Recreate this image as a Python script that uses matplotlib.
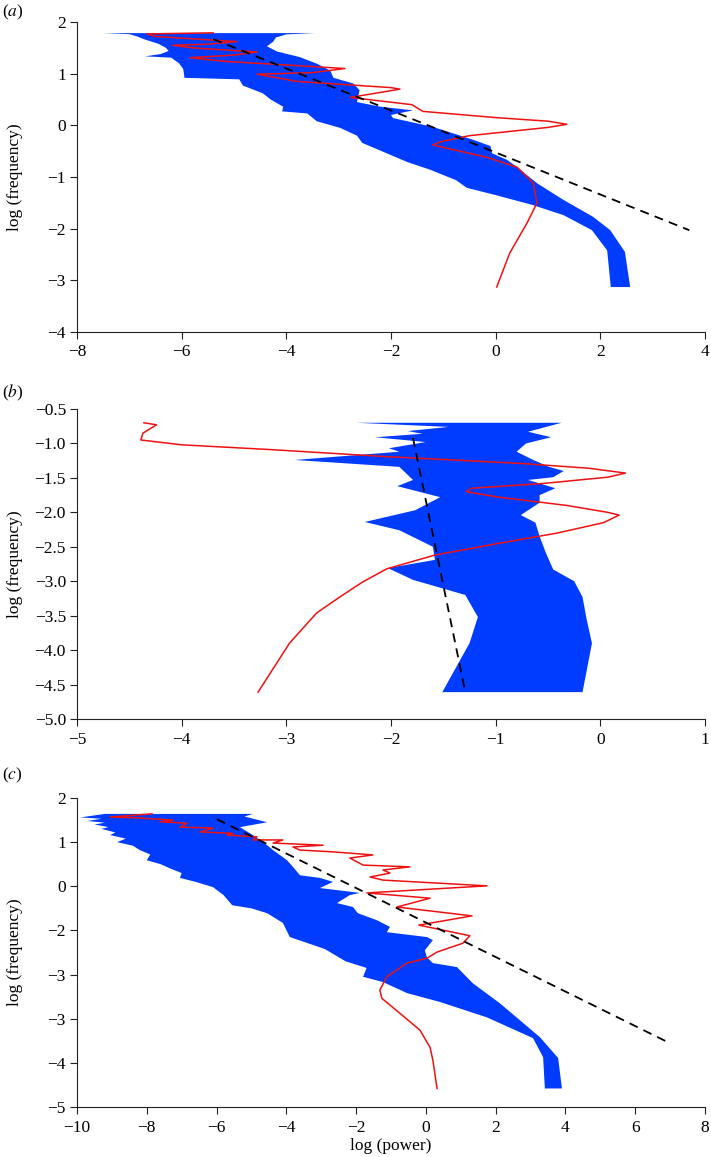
import matplotlib
matplotlib.use("Agg")
import matplotlib.pyplot as plt
import numpy as np

plt.rcParams['font.family'] = ['Liberation Serif', 'DejaVu Serif']
plt.rcParams['mathtext.fontset'] = 'stix'
plt.rcParams['font.size'] = 12.5

BLUE = '#003cff'
RED = '#ee1111'

# ---------------- Panel (a) ----------------
a_left_x = [-7.5, -7.0, -6.85, -6.7, -6.45, -6.3, -6.25, -6.4, -6.7, -6.2, -6.05, -5.97, -5.95, -5.95,
            -4.9, -4.83, -4.45, -4.3, -4.06, -4.08, -3.6, -3.42, -2.97, -2.65, -2.55, -1.69, -1.25,
            -0.76, -0.55, 0.0, 0.7, 1.3, 1.84, 2.13, 2.2]
a_left_y = [1.785, 1.765, 1.72, 1.66, 1.58, 1.50, 1.44, 1.38, 1.335, 1.31, 1.2, 1.09, 0.95, 0.92,
            0.89, 0.77, 0.62, 0.5, 0.36, 0.27, 0.23, 0.08, -0.05, -0.2, -0.34, -0.71, -0.86,
            -1.06, -1.21, -1.35, -1.54, -1.74, -2.03, -2.42, -3.13]
a_right_x = [-3.45, -4.0, -4.2, -4.25, -4.37, -4.18, -3.74, -3.41, -3.16, -3.1, -2.72, -2.6, -2.65,
             -2.2, -1.58, -2.0, -1.96, -1.2, -0.43, -0.1, -0.07, 0.22, 0.41, 0.79, 1.29, 1.86,
             2.19, 2.47, 2.57]
a_right_y = [1.785, 1.76, 1.70, 1.62, 1.53, 1.43, 1.32, 1.19, 1.06, 0.92, 0.81, 0.68, 0.45,
             0.36, 0.29, 0.2, 0.14, -0.03, -0.28, -0.40, -0.54, -0.67, -0.81, -1.12, -1.44, -1.77,
             -2.03, -2.45, -3.13]
a_red_x = [-5.4, -6.66, -6.5, -4.94, -5.5, -6.17, -5.8, -4.56, -5.0, -5.84, -5.2, -2.88, -3.5,
           -4.56, -3.8, -2.0, -1.83, -2.78, -1.6, -1.39, 0.0, 1.0, 1.36, 1.0, -0.5, -1.06, -1.2,
           -0.16, 0.41, 0.72, 0.79, 0.6, 0.27, 0.02]
a_red_y = [1.79, 1.77, 1.72, 1.62, 1.57, 1.55, 1.50, 1.42, 1.36, 1.31, 1.24, 1.10, 1.02,
           0.99, 0.85, 0.73, 0.70, 0.54, 0.40, 0.27, 0.15, 0.08, 0.02, -0.04, -0.2, -0.32, -0.38,
           -0.62, -0.81, -1.12, -1.50, -1.89, -2.47, -3.13]
a_fit_x = [-5.4, 3.7]
a_fit_y = [1.67, -2.03]
a_xticks = [-8, -6, -4, -2, 0, 2, 4]
a_yticks = [2, 1, 0, -1, -2, -3, -4]

# ---------------- Panel (b) ----------------
b_left_x = [-2.33, -1.45, -1.84, -1.70, -2.15, -1.67, -2.02, -1.92, -2.92, -1.92, -1.79, -1.94,
            -1.53, -1.77, -2.25, -1.92, -1.6, -1.58, -2.03, -1.79, -1.29, -1.17, -1.25, -1.51]
b_left_y = [-0.70, -0.76, -0.82, -0.86, -0.91, -0.98, -1.07, -1.12, -1.24, -1.34, -1.53, -1.62,
            -1.78, -1.97, -2.14, -2.26, -2.5, -2.69, -2.81, -2.98, -3.2, -3.52, -3.9, -4.61]
b_right_x = [-0.37, -0.69, -0.47, -0.71, -0.80, -0.64, -0.49, -0.35, -0.45, -0.69, -0.43, -0.58,
             -0.58, -0.76, -0.62, -0.58, -0.52, -0.45, -0.25, -0.17, -0.13, -0.08, -0.17]
b_right_y = [-0.70, -0.83, -0.91, -1.0, -1.12, -1.24, -1.34, -1.40, -1.49, -1.53, -1.65, -1.75,
             -1.86, -2.04, -2.15, -2.35, -2.59, -2.83, -3.0, -3.23, -3.56, -3.90, -4.61]
b_red_x = [-4.36, -4.24, -4.37, -4.39, -4.0, -3.14, -2.06, -1.40, -0.76, -0.11, 0.24, 0.07,
           -0.54, -1.23, -1.28, -0.97, -0.32, 0.07, 0.18, 0.03, -0.41, -0.97, -1.58, -2.04,
           -2.27, -2.49, -2.71, -2.97, -3.27]
b_red_y = [-0.70, -0.73, -0.85, -0.95, -1.02, -1.09, -1.19, -1.24, -1.29, -1.36, -1.43, -1.49,
           -1.58, -1.65, -1.70, -1.78, -1.9, -2.0, -2.04, -2.15, -2.3, -2.45, -2.62, -2.82,
           -3.01, -3.23, -3.46, -3.9, -4.61]
b_fit_x = [-1.79, -1.29]
b_fit_y = [-0.92, -4.61]
b_xticks = [-5, -4, -3, -2, -1, 0, 1]
b_yticks = [-0.5, -1.0, -1.5, -2.0, -2.5, -3.0, -3.5, -4.0, -4.5, -5.0]

# ---------------- Panel (c) ----------------
c_left_x = [-9.2, -9.9, -9.3, -9.7, -9.2, -9.5, -9.1, -9.3, -8.9, -9.05, -8.6, -8.85, -8.4, -8.2,
            -7.9, -8.0, -7.6, -7.35, -7.0, -7.05, -6.6, -6.1, -5.8, -5.55, -5.0, -4.55, -4.1,
            -3.9, -2.9, -2.3, -1.7, -1.8, -1.23, -0.54, 0.4, 1.75, 3.07, 3.36, 3.41]
c_left_y = [1.64, 1.56, 1.53, 1.48, 1.44, 1.40, 1.34, 1.30, 1.22, 1.16, 1.08, 1.0, 0.92, 0.82,
            0.72, 0.59, 0.50, 0.41, 0.30, 0.19, 0.10, -0.02, -0.2, -0.43, -0.50, -0.61, -0.83,
            -1.15, -1.42, -1.70, -1.85, -2.05, -2.17, -2.42, -2.62, -2.97, -3.44, -3.87, -4.58]
c_right_x = [-4.96, -5.2, -4.55, -5.33, -4.96, -4.55, -4.38, -3.98, -3.81, -3.61, -3.04, -2.66,
             -3.04, -1.89, -2.18, -2.55, -2.09, -1.95, -1.4, -1.03, -1.12, 0.03, 0.2, -0.03,
             0.03, 0.2, 0.89, 1.35, 2.12, 3.27, 3.79, 3.9]
c_right_y = [1.64, 1.58, 1.45, 1.34, 1.16, 0.93, 0.82, 0.59, 0.44, 0.25, 0.19, 0.10,
             -0.04, -0.15, -0.2, -0.38, -0.47, -0.61, -0.77, -0.92, -1.04, -1.15, -1.22, -1.45,
             -1.61, -1.74, -1.83, -2.2, -2.65, -3.42, -3.89, -4.58]
c_red_x = [-7.85, -9.05, -8.28, -7.25, -7.62, -6.85, -7.05, -6.1, -6.47, -5.53, -5.7, -4.84,
           -4.96, -4.1, -4.38, -2.95, -3.81, -3.61, -2.66, -1.52, -2.18, -1.8, -0.46, -1.23,
           -1.03, -1.6, -1.23, 1.75, -1.69, 0.12, -0.83, 1.32, -0.2, 1.26, 1.06, 0.32, 0.03,
           -0.54, -1.12, -1.32, -1.26, -0.74, -0.17, 0.12, 0.2, 0.32]
c_red_y = [1.64, 1.57, 1.55, 1.50, 1.46, 1.43, 1.34, 1.32, 1.23, 1.20, 1.16, 1.12,
           1.05, 1.05, 0.98, 0.93, 0.89, 0.82, 0.78, 0.71, 0.64, 0.48, 0.44, 0.37,
           0.30, 0.21, 0.14, 0.01, -0.15, -0.27, -0.47, -0.67, -0.88, -1.12, -1.29, -1.49, -1.63,
           -1.74, -2.05, -2.35, -2.54, -2.88, -3.26, -3.65, -3.94, -4.58]
c_fit_x = [-5.99, 6.88]
c_fit_y = [1.52, -3.51]
c_xticks = [-10, -8, -6, -4, -2, 0, 2, 4, 6, 8]
c_yticks = [2, 1, 0, -1, -2, -3, -4, -5]
c_yticklabels = ['2', '1', '0', '\u22122', '\u22123', '\u22123', '\u22124', '\u22125']

W, H = 711, 1157
fig = plt.figure(figsize=(W / 100, H / 100), dpi=100)


def make_axes(top_px, bottom_px):
    left = 77 / W
    width = 628 / W
    bottom = 1 - bottom_px / H
    height = (bottom_px - top_px) / H
    ax = fig.add_axes([left, bottom, width, height])
    for s in ['top', 'right']:
        ax.spines[s].set_visible(False)
    for s in ['left', 'bottom']:
        ax.spines[s].set_linewidth(0.8)
        ax.spines[s].set_color('#222222')
    ax.tick_params(direction='out', length=5, width=0.8, colors='#222222',
                   labelcolor='black', labelsize=12.5)
    ax.tick_params(axis='y', pad=3)
    ax.tick_params(axis='x', pad=4)
    return ax


def draw(ax, lx, ly, rx, ry, redx, redy, fx, fy):
    px = list(lx) + list(rx)[::-1]
    py = list(ly) + list(ry)[::-1]
    ax.fill(px, py, color=BLUE, lw=0, zorder=1)
    ax.plot(redx, redy, color=RED, lw=1.1, zorder=3, solid_joinstyle='round')
    ax.plot(fx, fy, color='black', lw=1.3, dashes=(5, 3.5), zorder=4)


# (a)
ax1 = make_axes(22, 332)
draw(ax1, a_left_x, a_left_y, a_right_x, a_right_y, a_red_x, a_red_y, a_fit_x, a_fit_y)
ax1.set_xlim(-8, 4)
ax1.set_ylim(-4, 2)
ax1.set_xticks(a_xticks)
ax1.set_yticks(a_yticks)
ax1.set_ylabel('log (frequency)')
ax1.yaxis.set_label_coords(-0.086, 0.5)

# (b)
ax2 = make_axes(409, 719)
draw(ax2, b_left_x, b_left_y, b_right_x, b_right_y, b_red_x, b_red_y, b_fit_x, b_fit_y)
ax2.set_xlim(-5, 1)
ax2.set_ylim(-5, -0.5)
ax2.set_xticks(b_xticks)
ax2.set_yticks(b_yticks)
ax2.set_yticklabels([f'{v:.1f}'.replace('-', '\u2212') for v in b_yticks])
ax2.set_ylabel('log (frequency)')
ax2.yaxis.set_label_coords(-0.086, 0.5)

# (c)
ax3 = make_axes(798, 1107)
draw(ax3, c_left_x, c_left_y, c_right_x, c_right_y, c_red_x, c_red_y, c_fit_x, c_fit_y)
ax3.set_xlim(-10, 8)
ax3.set_ylim(-5, 2)
ax3.set_xticks(c_xticks)
ax3.set_yticks(c_yticks)
ax3.set_yticklabels(c_yticklabels)
ax3.set_ylabel('log (frequency)')
ax3.yaxis.set_label_coords(-0.086, 0.5)
ax3.set_xlabel('log (power)')
ax3.xaxis.set_label_coords(0.5, -0.1)

for lab, ypx in [('a', 12), ('b', 393), ('c', 775)]:
    fig.text(2 / W, 1 - ypx / H, '(' + r'$\mathit{' + lab + '}$' + ')', ha='left', va='center',
             fontsize=12.5)

fig.savefig('out.png', dpi=100)
